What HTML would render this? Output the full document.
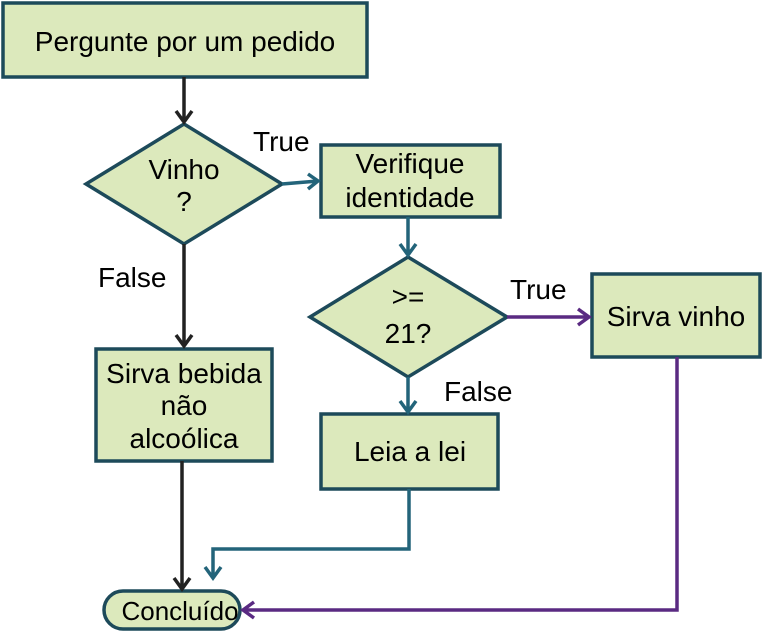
<!DOCTYPE html>
<html><head><meta charset="utf-8"><style>
html,body{margin:0;padding:0;background:#fff;}
svg{display:block;}
svg text{font-family:"Liberation Sans",Arial,sans-serif;font-size:28px;fill:#000;}
</style></head><body>
<svg width="762" height="631" viewBox="0 0 762 631" font-family="Liberation Sans, Arial, sans-serif" font-size="28">
<g fill="#dce9bc" stroke="#1d4a5a" stroke-width="3.5">
<rect x="3" y="3" width="364" height="74"/>
<polygon points="184,124 282,184 184,244 86,184"/>
<rect x="321" y="145" width="179" height="72"/>
<polygon points="408,257 507,317 408,377 310,317"/>
<rect x="592" y="274" width="168" height="83"/>
<rect x="321" y="414" width="177" height="75"/>
<rect x="96" y="349" width="176" height="112"/>
<rect x="104" y="591" width="136" height="38" rx="19"/>
</g>
<g fill="none" stroke-width="3.5">
<path d="M184 77V122M176 111L184 122L192 111" stroke="#222"/>
<path d="M184 244V346M176 335L184 346L192 335" stroke="#222"/>
<path d="M182 461V589M174 578L182 589L190 578" stroke="#222"/>
<path d="M282 184L318 181M308 174L318 181L308 189" stroke="#23647a"/>
<path d="M408 217V255M400 244L408 255L416 244" stroke="#23647a"/>
<path d="M408 377V412M400 401L408 412L416 401" stroke="#23647a"/>
<path d="M409 489V549H213V578M205 567L213 578L221 567" stroke="#23647a"/>
<path d="M507 317H589M578 309L589 317L578 325" stroke="#5a2a82"/>
<path d="M677 357V610H243M254 602L243 610L254 618" stroke="#5a2a82"/>
</g>
<text x="185" y="51" text-anchor="middle">Pergunte por um pedido</text>
<text x="184" y="179" text-anchor="middle">Vinho</text>
<text x="184" y="211" text-anchor="middle">?</text>
<text x="253" y="151">True</text>
<text x="98" y="287">False</text>
<text x="410" y="173" text-anchor="middle">Verifique</text>
<text x="410" y="207" text-anchor="middle">identidade</text>
<text x="408" y="306" text-anchor="middle">&gt;=</text>
<text x="408" y="343" text-anchor="middle">21?</text>
<text x="510" y="299">True</text>
<text x="444" y="401">False</text>
<text x="676" y="326" text-anchor="middle">Sirva vinho</text>
<text x="410" y="461" text-anchor="middle">Leia a lei</text>
<text x="184" y="383" text-anchor="middle">Sirva bebida</text>
<text x="184" y="415" text-anchor="middle">não</text>
<text x="184" y="448" text-anchor="middle">alcoólica</text>
<text x="180" y="620" text-anchor="middle" style="font-size:26px">Concluído</text>
</svg>
</body></html>
